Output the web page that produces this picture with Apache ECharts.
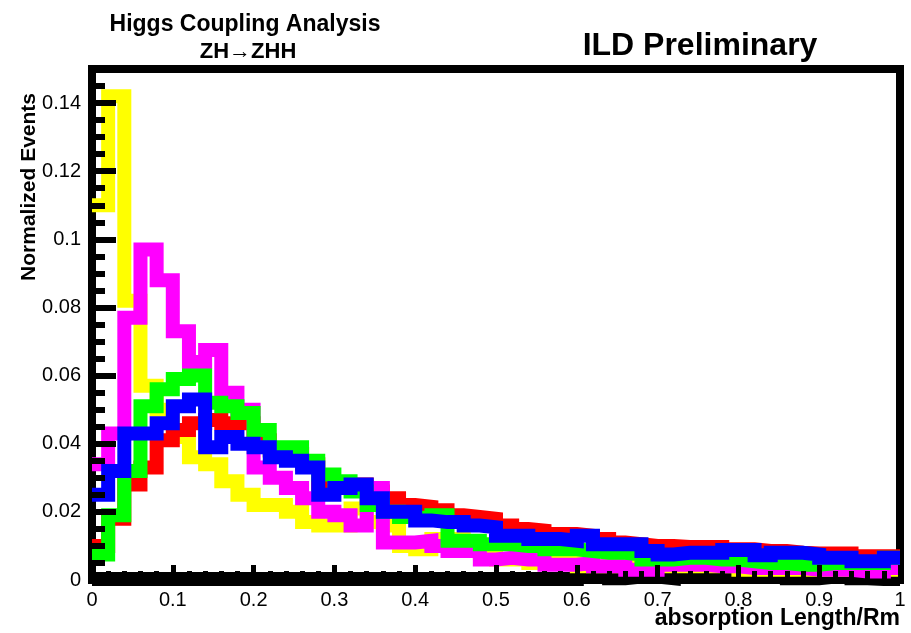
<!DOCTYPE html>
<html>
<head>
<meta charset="utf-8">
<script src="https://cdn.jsdelivr.net/npm/echarts@6/dist/echarts.min.js"></script>
<style>
  html, body { margin: 0; padding: 0; background: #fff; }
  #chart { width: 911px; height: 633px; }
</style>
</head>
<body>
<div id="chart"></div>
<script>
// 50 bins of absorption Length/Rm, 0 -> 1
const binWidth = 0.02

// normalized events per bin
const yellowVals = [0.110, 0.142, 0.082, 0.057, 0.050, 0.042, 0.036, 0.034, 0.029, 0.025,
    0.022, 0.022, 0.020, 0.017, 0.016, 0.016, 0.021, 0.017, 0.016, 0.010,
    0.009, 0.012, 0.012, 0.009, 0.008, 0.006, 0.006, 0.005, 0.005, 0.005,
    0.004, 0.004, 0.004, 0.004, 0.004, 0.004, 0.004, 0.004, 0.004, 0.004,
    0.003, 0.003, 0.003, 0.003, 0.003, 0.003, 0.003, 0.003, 0.003, 0.003]

const magentaVals = [0.034, 0.043, 0.077, 0.097, 0.088, 0.073, 0.064, 0.0675, 0.055, 0.050,
    0.033, 0.030, 0.027, 0.024, 0.020, 0.019, 0.016, 0.027, 0.011, 0.011,
    0.0115, 0.010, 0.0085, 0.0085, 0.006, 0.0065, 0.006, 0.006, 0.0045, 0.0045,
    0.005, 0.004, 0.004, 0.003, 0.003, 0.0045, 0.0045, 0.0045, 0.004, 0.004,
    0.0035, 0.0035, 0.0035, 0.0035, 0.003, 0.003, 0.003, 0.0025, 0.0025, 0.0035]

const greenVals = [0.0075, 0.019, 0.032, 0.051, 0.056, 0.059, 0.060, 0.052, 0.051, 0.049,
    0.044, 0.039, 0.039, 0.035, 0.031, 0.029, 0.026, 0.022, 0.020, 0.0185,
    0.018, 0.019, 0.0115, 0.0115, 0.0105, 0.0105, 0.010, 0.010, 0.009, 0.009,
    0.0085, 0.008, 0.008, 0.0075, 0.006, 0.006, 0.0065, 0.0065, 0.006, 0.006,
    0.0055, 0.005, 0.005, 0.0045, 0.0045, 0.005, 0.005, 0.005, 0.005, 0.0065]

const redVals = [0.010, 0.018, 0.028, 0.033, 0.041, 0.044, 0.046, 0.047, 0.046, 0.046,
    0.041, 0.038, 0.037, 0.034, 0.028, 0.028, 0.028, 0.026, 0.024, 0.022,
    0.0215, 0.0205, 0.019, 0.0185, 0.018, 0.016, 0.015, 0.0145, 0.0135, 0.0135,
    0.013, 0.012, 0.011, 0.0105, 0.010, 0.010, 0.0097, 0.0097, 0.0097, 0.009,
    0.009, 0.0085, 0.0085, 0.008, 0.0078, 0.0078, 0.0078, 0.007, 0.007, 0.007]

const blueVals = [0.025, 0.032, 0.043, 0.043, 0.046, 0.051, 0.053, 0.039, 0.042, 0.040,
    0.039, 0.036, 0.035, 0.033, 0.025, 0.027, 0.028, 0.024, 0.020, 0.020,
    0.0175, 0.017, 0.017, 0.016, 0.0155, 0.013, 0.013, 0.012, 0.012, 0.0115,
    0.013, 0.0105, 0.0105, 0.0105, 0.0085, 0.0075, 0.008, 0.008, 0.008, 0.0088,
    0.0088, 0.0073, 0.008, 0.008, 0.0075, 0.0065, 0.0065, 0.0055, 0.0055, 0.0065]

const blackVals = [0.0003, 0.0003, 0.0003, 0.0003, 0.0003, 0.0003, 0.0003, 0.0003, 0.0003, 0.0003,
    0.0003, 0.0003, 0.0003, 0.0003, 0.0003, 0.0003, 0.0003, 0.0003, 0.0003, 0.0003,
    0.0003, 0.0003, 0.0003, 0.0003, 0.0003, 0.0003, 0.0003, 0.0003, 0.0003, 0.0003,
    0.0015, 0.0015, 0.0005, 0.001, 0.001, 0.0005, 0.0012, 0.0012, 0.0012, 0.0012,
    0.0022, 0.0012, 0.0012, 0.0005, 0.0005, 0.001, 0.0012, 0.0005, 0.0003, 0.0003]

// drawn bottom to top
const histos = [
    {name: 'black', color: '#000000', vals: blackVals},
    {name: 'yellow', color: '#ffff00', vals: yellowVals},
    {name: 'red', color: '#ff0000', vals: redVals},
    {name: 'magenta', color: '#ff00ff', vals: magentaVals},
    {name: 'green', color: '#00ff00', vals: greenVals},
    {name: 'blue', color: '#0000ff', vals: blueVals}
]

// left edge of each bin plus closing point at the upper edge, drawn with step 'end'
function stepPoints(vals) {
    let pts = vals.map(function(v, i) { return [i * binWidth, v] })
    pts.push([vals.length * binWidth, vals[vals.length - 1]])
    return pts
}

const fontFamily = '"Liberation Sans", Arial, sans-serif'

let chart = echarts.init(document.getElementById('chart'))

let option = {
    animation: false,
    backgroundColor: '#ffffff',
    title: [{
        text: 'Higgs Coupling Analysis',
        left: 240, top: 8, textAlign: 'center',
        textStyle: {fontFamily: fontFamily, fontSize: 23, fontWeight: 'bold', color: '#000'}
    }, {
        text: 'ZH\u2192ZHH',
        left: 243, top: 36, textAlign: 'center',
        textStyle: {fontFamily: fontFamily, fontSize: 22, fontWeight: 'bold', color: '#000'}
    }, {
        text: 'ILD Preliminary',
        left: 695, top: 25, textAlign: 'center',
        textStyle: {fontFamily: fontFamily, fontSize: 32, fontWeight: 'bold', color: '#000'}
    }],
    grid: {
        left: 92, right: 11, top: 69, bottom: 53,
        outerBoundsMode: 'none',
        containLabel: false,
        show: true,
        borderColor: '#000',
        borderWidth: 8
    },
    xAxis: {
        type: 'value',
        min: 0, max: 1, interval: 0.1,
        z: 10,
        name: 'absorption Length/Rm',
        nameLocation: 'end',
        nameGap: 0,
        nameMoveOverlap: false,
        nameTextStyle: {
            fontFamily: fontFamily, fontSize: 23, fontWeight: 'bold', color: '#000',
            align: 'right', verticalAlign: 'top', padding: [27, 0, 0, 0]
        },
        axisLine: {show: false},
        axisTick: {show: true, inside: true, length: 15, lineStyle: {color: '#000', width: 5}},
        minorTick: {show: true, splitNumber: 5, length: 9, lineStyle: {color: '#000', width: 5}},
        splitLine: {show: false},
        axisLabel: {
            margin: 10, fontFamily: fontFamily, fontSize: 20, color: '#000',
            formatter: function(v) { return String(Math.round(v * 10) / 10) }
        }
    },
    yAxis: {
        type: 'value',
        min: 0, max: 0.15, interval: 0.02,
        z: 10,
        name: 'Normalized Events',
        nameLocation: 'end',
        nameRotate: 90,
        nameGap: 0,
        nameMoveOverlap: false,
        nameTextStyle: {
            fontFamily: fontFamily, fontSize: 21, fontWeight: 'bold', color: '#000',
            align: 'right', verticalAlign: 'bottom', padding: [0, 24, 52, 0]
        },
        axisLine: {show: false},
        axisTick: {show: true, inside: true, length: 24, lineStyle: {color: '#000', width: 6}},
        minorTick: {show: true, splitNumber: 4, length: 13, lineStyle: {color: '#000', width: 6}},
        splitLine: {show: false},
        axisLabel: {
            margin: 11, showMaxLabel: false, fontFamily: fontFamily, fontSize: 20, color: '#000',
            formatter: function(v) { return String(Math.round(v * 100) / 100) }
        }
    },
    series: histos.map(function(h) {
        return {
            name: h.name,
            type: 'line',
            step: 'end',
            showSymbol: false,
            silent: true,
            clip: false,
            data: stepPoints(h.vals),
            lineStyle: {color: h.color, width: 14, cap: 'butt', join: 'miter'}
        }
    })
}

chart.setOption(option)
</script>
</body>
</html>
